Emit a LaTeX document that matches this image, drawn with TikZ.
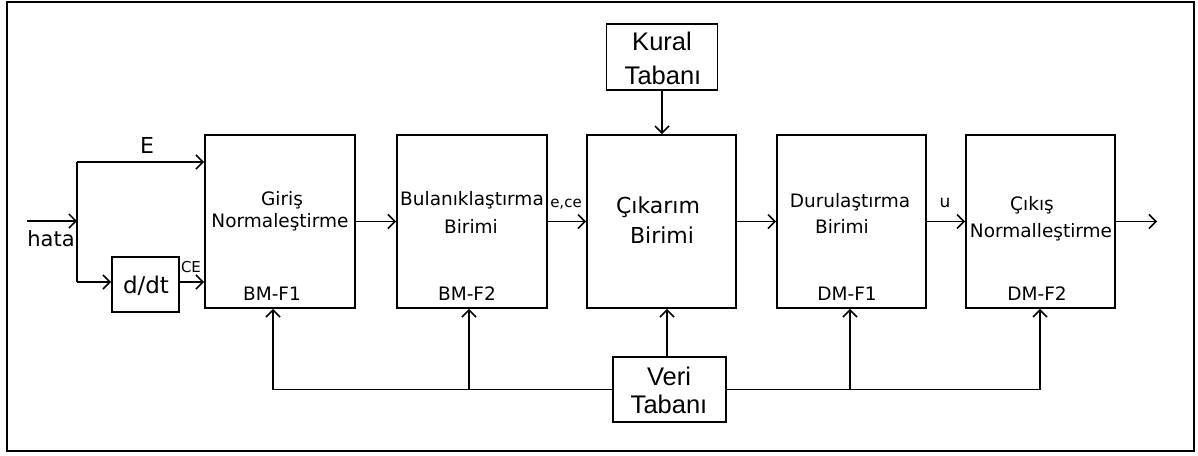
\documentclass[tikz,border=0pt]{standalone}
\usepackage{fontspec}
\setmainfont{DejaVu Sans}
\newfontfamily\libsans{Liberation Sans}
\usetikzlibrary{arrows.meta,calc}
\begin{document}
\begin{tikzpicture}[x=1pt,y=-1pt,
  box/.style={draw, line width=1.9pt, inner sep=0pt, rectangle},
  arr/.style={line width=1.7pt, -{Straight Barb[length=7pt,width=14pt,line width=1.5pt]}},
  ln/.style={line width=1.7pt},
  txt/.style={inner sep=0pt, anchor=base, font=\fontsize{18.5}{22}\selectfont},
  mid/.style={inner sep=0pt, anchor=base, font=\fontsize{22}{26}\selectfont},
  big/.style={inner sep=0pt, anchor=base, font=\libsans\fontsize{25.5}{30}\selectfont},
  small/.style={inner sep=0pt, anchor=base, font=\fontsize{15}{17}\selectfont}]
\useasboundingbox (0,0) rectangle (1198,455);
\fill[white] (0,0) rectangle (1198,455);
\draw[line width=2.2pt] (7,2) rectangle (1194,451);

% boxes
\node[box, minimum width=150pt, minimum height=173pt] (f1) at (280,221.5) {};
\node[box, minimum width=150pt, minimum height=173pt] (f2) at (472,221.5) {};
\node[box, minimum width=149pt, minimum height=173pt] (ck) at (661.5,221.5) {};
\node[box, minimum width=149pt, minimum height=173pt] (d1) at (851.5,221.5) {};
\node[box, minimum width=149pt, minimum height=173pt] (d2) at (1040.5,221.5) {};
\node[box, minimum width=111pt, minimum height=66pt] (kt) at (662,57) {};
\node[box, minimum width=113pt, minimum height=65pt] (vt) at (669.5,389.5) {};
\node[box, minimum width=67pt, minimum height=55pt] (dd) at (145.5,284.5) {};

% texts
\node[txt] (t1a) at (282,205) {Giriş};
\node[txt] (t1b) at (280,227) {Normaleştirme};
\node[txt] (t1c) at (272,300) {BM-F1};
\node[txt] (t2a) at (472,205) {Bulanıklaştırma};
\node[txt] (t2b) at (471,233) {Birimi};
\node[txt] (t2c) at (467,300) {BM-F2};
\node[mid] (t3a) at (658,213) {Çıkarım};
\node[mid] (t3b) at (662,243) {Birimi};
\node[txt] (t4a) at (850,207) {Durulaştırma};
\node[txt] (t4b) at (842,233) {Birimi};
\node[txt] (t4c) at (847,300) {DM-F1};
\node[txt] (t5a) at (1032,210) {Çıkış};
\node[txt] (t5b) at (1041,237) {Normalleştirme};
\node[txt] (t5c) at (1037,300) {DM-F2};
\node[big] (tka) at (662,50) {Kural};
\node[big] (tkb) at (663,84) {Tabanı};
\node[big] (tva) at (669,385) {Veri};
\node[big] (tvb) at (669,413) {Tabanı};
\node[inner sep=0pt, anchor=base, font=\fontsize{23}{26}\selectfont] (tdd) at (146,293) {d/dt};
\node[mid] (tE) at (147,153) {E};
\node[inner sep=0pt, anchor=base, font=\fontsize{21}{24}\selectfont] (th) at (51,246) {hata};
\node[small] (tce) at (191,272) {CE};
\node[small] (tec) at (566,207) {e,ce};
\node[inner sep=0pt, anchor=base, font=\fontsize{17}{19}\selectfont] (tu) at (945,207) {u};

% input part
\coordinate (in) at (27,221);
\coordinate (j) at (77,221);
\coordinate (jt) at (77,162);
\coordinate (jb) at (77,282);
\draw[arr] (in) -- (j);
\draw[ln] (jt) -- (jb);
\draw[arr] (jt) -- (f1.west |- jt);
\draw[arr] (jb) -- (dd.west |- jb);
\draw[arr] (dd.east |- jb) -- (f1.west |- jb);

% main chain
\draw[arr] (f1.east) -- (f2.west);
\draw[arr] (f2.east) -- (ck.west);
\draw[arr] (ck.east) -- (d1.west);
\draw[arr] (d1.east) -- (d2.west);
\coordinate (out) at (1157,221.5);
\draw[arr] (d2.east) -- (out);
\draw[arr] (kt.south) -- (ck.north -| kt.south);

% data bus
\coordinate (b1) at (273,389.5);
\coordinate (b2) at (469,389.5);
\coordinate (b4) at (850,389.5);
\coordinate (b5) at (1040,389.5);
\draw[arr] (vt.west) -- (b1) -- (b1 |- f1.south);
\draw[arr] (b2) -- (b2 |- f2.south);
\draw[arr] (vt.east) -- (b5) -- (b5 |- d2.south);
\draw[arr] (b4) -- (b4 |- d1.south);
\coordinate (vtop) at (667,357);
\draw[arr] (vtop) -- (vtop |- ck.south);
\end{tikzpicture}
\end{document}
